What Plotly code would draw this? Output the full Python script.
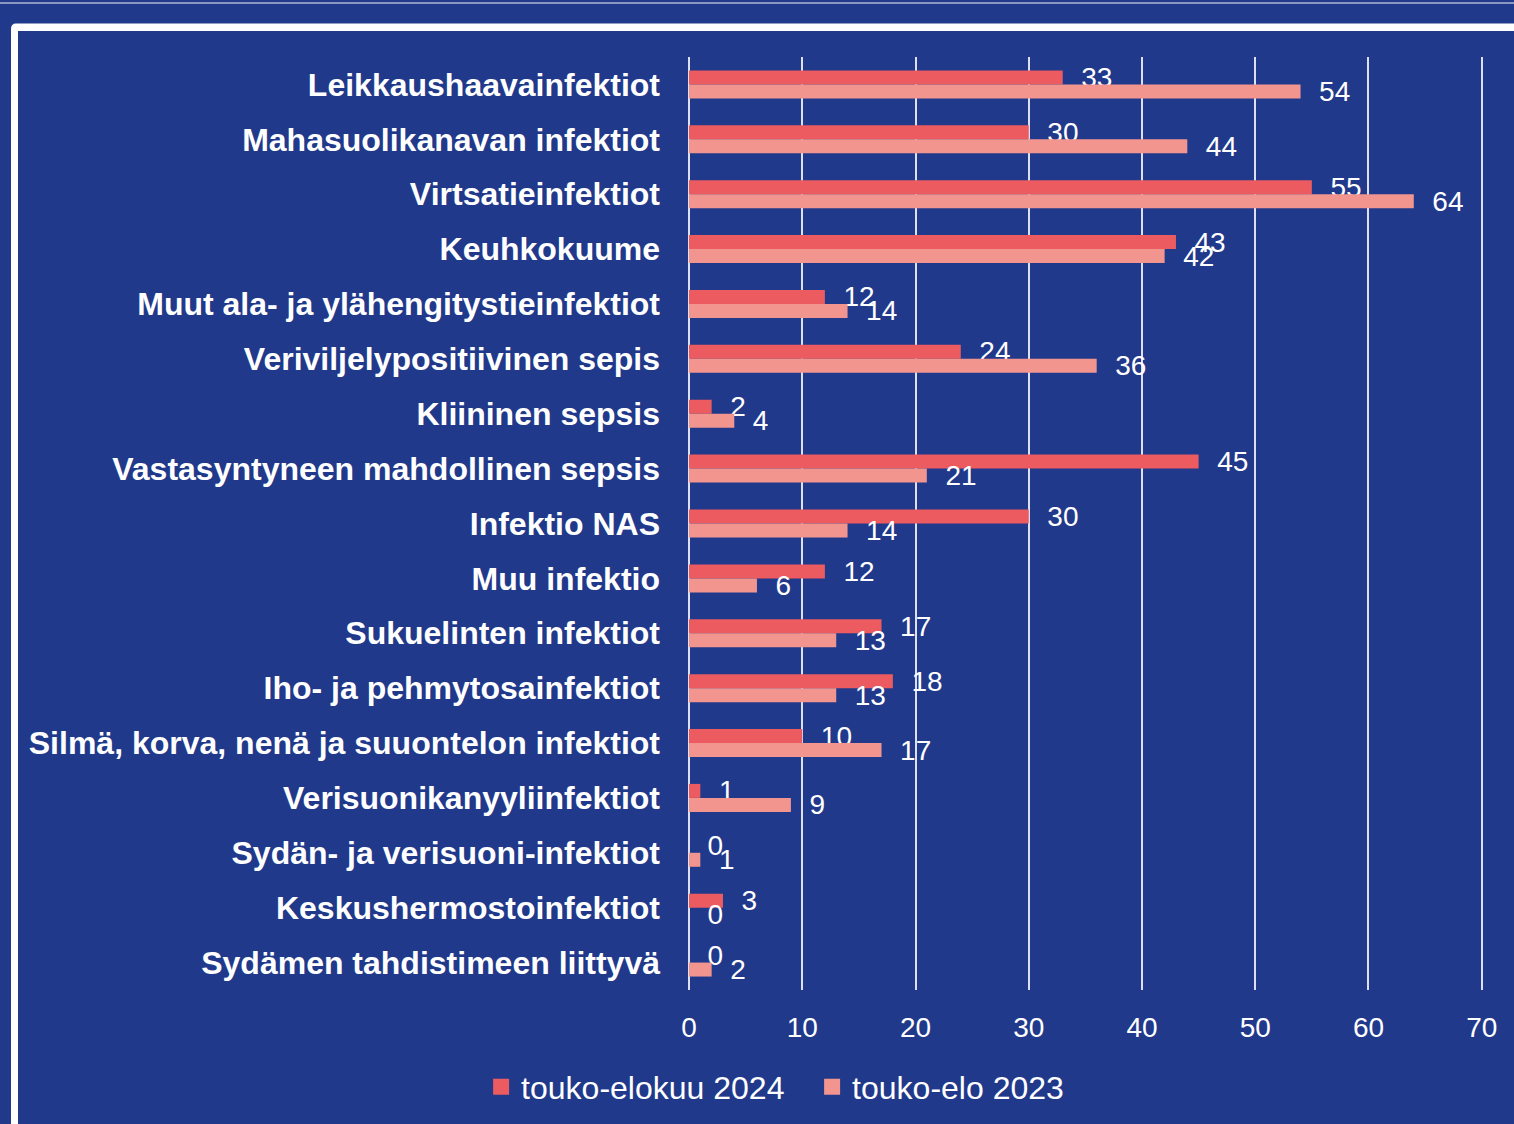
import plotly.graph_objects as go

categories = [
    "Leikkaushaavainfektiot",
    "Mahasuolikanavan infektiot",
    "Virtsatieinfektiot",
    "Keuhkokuume",
    "Muut ala- ja ylähengitystieinfektiot",
    "Veriviljelypositiivinen sepis",
    "Kliininen sepsis",
    "Vastasyntyneen mahdollinen sepsis",
    "Infektio NAS",
    "Muu infektio",
    "Sukuelinten infektiot",
    "Iho- ja pehmytosainfektiot",
    "Silmä, korva, nenä ja suuontelon infektiot",
    "Verisuonikanyyliinfektiot",
    "Sydän- ja verisuoni-infektiot",
    "Keskushermostoinfektiot",
    "Sydämen tahdistimeen liittyvä",
]
values_2024 = [33, 30, 55, 43, 12, 24, 2, 45, 30, 12, 17, 18, 10, 1, 0, 3, 0]
values_2023 = [54, 44, 64, 42, 14, 36, 4, 21, 14, 6, 13, 13, 17, 9, 1, 0, 2]
series_names = ["touko-elokuu 2024", "touko-elo 2023"]
x_ticks = [0, 10, 20, 30, 40, 50, 60, 70]

BLUE = "#21398B"
C1 = "#EB5B60"
C2 = "#F3958F"
GRID = "#DDE0F0"
FONT = "Liberation Sans, Arial, sans-serif"

W, H = 1514, 1124
L, R, T, B = 689, 30, 57, 134
PW, PH = W - L - R, H - T - B


def px(x):
    return (x - L) / PW


def py(y):
    return (H - B - y) / PH


fig = go.Figure()
for name, vals, col in [(series_names[0], values_2024, C1), (series_names[1], values_2023, C2)]:
    fig.add_trace(go.Bar(
        y=categories, x=vals, orientation="h", name=name,
        marker=dict(color=col, line=dict(width=0)),
        text=["\u00a0\u00a0" + str(v) for v in vals],
        textposition="outside", constraintext="none", cliponaxis=False,
        textfont=dict(color="white", size=28, family=FONT),
        showlegend=False,
    ))
    fig.add_trace(go.Scatter(
        x=[None], y=[None], mode="markers", name=name,
        marker=dict(symbol="square", size=17, color=col),
        showlegend=True,
    ))

shapes = [
    dict(type="line", xref="paper", yref="paper", x0=px(0), x1=px(W), y0=py(3), y1=py(3),
         line=dict(color="#AEB6D6", width=1.5), layer="below"),
    dict(type="path", xref="paper", yref="paper", layer="below",
         path=(f"M {px(11)},{py(29)} Q {px(11)},{py(23.5)} {px(16)},{py(23.5)} "
               f"L {px(W + 5)},{py(23.5)} L {px(W + 5)},{py(H + 5)} L {px(11)},{py(H + 5)} Z"),
         fillcolor="white", line=dict(width=0)),
    dict(type="rect", xref="paper", yref="paper", layer="below",
         x0=px(18), x1=px(W + 5), y0=py(31), y1=py(H + 5),
         fillcolor=BLUE, line=dict(width=0)),
]

fig.update_layout(
    width=W, height=H,
    margin=dict(l=L, r=R, t=T, b=B, pad=0),
    paper_bgcolor=BLUE, plot_bgcolor="rgba(0,0,0,0)",
    barmode="group", bargap=0.49, bargroupgap=0,
    font=dict(family=FONT, color="white", size=28),
    shapes=shapes,
    showlegend=True,
    legend=dict(orientation="h", xref="container", yref="container",
                x=0.5364, y=1 - 1087 / H, xanchor="center", yanchor="middle",
                font=dict(size=32, color="white", family=FONT),
                entrywidth=286, entrywidthmode="pixels",
                bgcolor="rgba(0,0,0,0)", tracegroupgap=0),
    xaxis=dict(range=[0, 70.2], tickvals=x_ticks, showgrid=True, gridcolor=GRID, gridwidth=2,
               zeroline=True, zerolinecolor=GRID, zerolinewidth=2, showline=False,
               ticks="", tickfont=dict(size=28, color="white", family=FONT),
               ticklabelstandoff=18, fixedrange=True),
    yaxis=dict(type="category", autorange="reversed", showgrid=False, zeroline=False,
               showline=False, ticks="",
               tickfont=dict(size=32, color="white", family=FONT, weight="bold"),
               ticklabelstandoff=28, fixedrange=True),
)

fig.write_html("out.html", config={"displayModeBar": False},
               post_script="document.body.style.margin='0';")
